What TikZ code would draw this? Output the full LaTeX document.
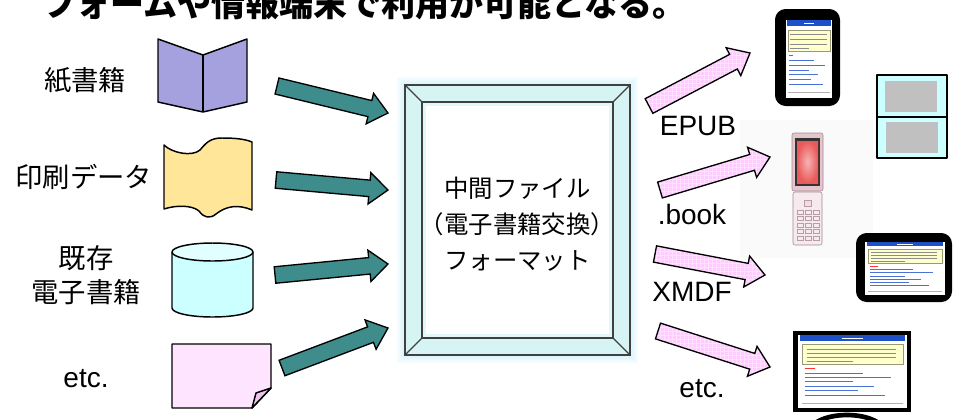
\documentclass[tikz,border=0pt]{standalone}
\usepackage{fontspec}
\setmainfont{Liberation Sans}
\newfontfamily\jpfont{Noto Sans CJK JP}
\usetikzlibrary{calc,patterns}
\definecolor{arrowTeal}{RGB}{62,140,140}
\definecolor{arrowPink}{RGB}{255,204,255}
\definecolor{bookLilac}{RGB}{165,160,222}
\definecolor{paperYellow}{RGB}{255,230,153}
\definecolor{drumCyan}{RGB}{204,255,255}
\definecolor{drumTop}{RGB}{226,255,255}
\definecolor{notePink}{RGB}{255,228,255}
\definecolor{noteFold}{RGB}{240,196,240}
\definecolor{frameCyan}{RGB}{214,244,244}
\definecolor{screenBlue}{RGB}{30,80,200}
\definecolor{screenCream}{RGB}{255,255,204}
\definecolor{phoneRose}{RGB}{230,196,206}
\definecolor{phoneRed}{RGB}{235,90,90}
\definecolor{dsGrey}{RGB}{192,192,192}
% block arrow: style, tail, tip
\newcommand{\shaftw}{6.2pt}
\newcommand{\headw}{11.8pt}
\newcommand{\headl}{14pt}
\newcommand{\blockarrow}[3]{%
  \coordinate (#2-b) at ($(#3)!\headl!(#2)$);
  \draw[#1] ($(#2)!\shaftw!90:(#3)$) -- ($(#2-b)!\shaftw!90:(#3)$)
    -- ($(#2-b)!\headw!90:(#3)$) -- (#3) -- ($(#2-b)!\headw!-90:(#3)$)
    -- ($(#2-b)!\shaftw!-90:(#3)$) -- ($(#2)!\shaftw!-90:(#3)$) -- cycle;}
% little reader screen in a unit box: left, top, width, height (px)
\newcommand{\uiscreen}[4]{%
  \begin{scope}[shift={(#1,#2)},x=#3*0.75pt,y=-#4*0.75pt]
    \fill[white] (0,0) rectangle (1,1);
    \fill[screenBlue] (0.02,0) rectangle (0.98,0.08);
    \draw[white,line width=.4pt] (0.4,0.04) -- (0.6,0.04);
    \draw[fill=screenCream,draw=screenCream!60!black,line width=.2pt] (0.04,0.13) rectangle (0.96,0.4);
    \foreach \ty in {0.19,0.25,0.31}
      \draw[black!45,line width=.5pt] (0.08,\ty) -- (0.9,\ty);
    \draw[black!45,line width=.5pt] (0.08,0.36) -- (0.5,0.36);
    \draw[red!80,line width=.6pt] (0.06,0.46) -- (0.16,0.46);
    \foreach \ty/\tl in {0.52/0.6,0.58/0.85,0.64/0.5,0.7/0.7,0.76/0.55,0.82/0.8}
      \draw[screenBlue!80,line width=.5pt] (0.06,\ty) -- (\tl,\ty);
    \draw[black!30,line width=.4pt] (0.04,0.93) -- (0.96,0.93);
  \end{scope}}
\tikzset{
  icon/.style={draw=black,line width=1.1pt,line join=round},
  tealarrow/.style={draw=black,line width=1pt,fill=arrowTeal},
  pinkarrow/.style={draw=black,line width=1pt,preaction={fill=arrowPink},pattern=grid,pattern color=magenta!12},
  jplabel/.style={font=\jpfont\fontsize{20.5}{26}\selectfont,inner sep=0pt,align=center},
  enlabel/.style={font=\fontsize{21}{24}\selectfont,inner sep=0pt},
  frameline/.style={draw=black!75,line width=.9pt},
  device/.style={fill=black,rounded corners=8pt}
}
\begin{document}
\begin{tikzpicture}[x=0.75pt,y=-0.75pt]
\useasboundingbox (0,0) rectangle (953,419);
\clip (0,0) rectangle (953,419);

% heading line running off the top
\node[anchor=base west,inner sep=0pt,font=\jpfont\bfseries\fontsize{25.5}{30}\selectfont] (lead) at (42,16) {フォームや情報端末で利用が可能となる。};

% sources
\node[jplabel] (paperbook) at (85,80) {紙書籍};
\node[jplabel] (printdata) at (84,177) {印刷データ};
\node[jplabel] (ebook) at (86,275) {既存\\電子書籍};
\node[enlabel,anchor=base] (othersrc) at (86,387) {etc.};

\draw[icon,fill=bookLilac] (158,39) -- (203,55) -- (247,39) -- (247,102) -- (203,112) -- (158,102) -- cycle;
\draw[icon] (203,55) -- (203,112);

\draw[icon,fill=paperYellow] (164,145) .. controls (172,153) and (192,157) .. (200,150)
  .. controls (206,143) and (210,138) .. (222,138) .. controls (235,138) and (245,139) .. (252,142)
  -- (252,210) .. controls (238,204) and (226,206) .. (216,214)
  .. controls (210,219) and (204,218) .. (199,211) .. controls (192,205) and (176,205) .. (164,209) -- cycle;

\draw[icon,fill=drumCyan] (172,252) -- (172,308) arc[start angle=180,end angle=0,x radius=40.5,y radius=9] -- (253,252);
\draw[icon,fill=drumTop] (212.5,252) ellipse[x radius=40.5,y radius=9];

\draw[icon,preaction={fill=notePink},pattern=grid,pattern color=magenta!10] (172,344) -- (271,344) -- (271,388) -- (252,408) -- (172,408) -- cycle;
\draw[icon,fill=noteFold] (252,408) -- (256,393) -- (271,388) -- cycle;

% into the exchange format
\coordinate (s1) at (277,86);  \coordinate (e1) at (388,113);
\coordinate (s2) at (276,180); \coordinate (e2) at (388,190);
\coordinate (s3) at (275,275); \coordinate (e3) at (388,264);
\coordinate (s4) at (282,368); \coordinate (e4) at (388,328);
\foreach \i in {1,...,4}
  {\blockarrow{tealarrow}{s\i}{e\i}}

% bevelled frame with soft glow
\foreach \g in {2,4,...,12}
  \draw[cyan!40,opacity=.07,line width=\g pt] (405,85) rectangle (630,355);
\fill[frameCyan] (405,85) rectangle (630,355);
\fill[white] (422,102) rectangle (613,338);
\draw[frameCyan!70,line width=3pt] (424,104) rectangle (611,336);
\draw[frameline] (405,85) rectangle (630,355);
\draw[frameline] (422,102) rectangle (613,338);
\draw[frameline] (405,85) -- (422,102) (630,85) -- (613,102) (405,355) -- (422,338) (630,355) -- (613,338);
\node[jplabel,font=\jpfont\fontsize{18.3}{27}\selectfont] (fmt) at (517.5,224) {中間ファイル\\（電子書籍交換）\\フォーマット};

% backdrop of the flip phone photo
\fill[black!2] (740,120) rectangle (873,258);

% out to the readers
\coordinate (p1) at (649,106); \coordinate (q1) at (750,53);
\coordinate (p2) at (660,190); \coordinate (q2) at (770,157);
\coordinate (p3) at (655,254); \coordinate (q3) at (765,275);
\coordinate (p4) at (658,331); \coordinate (q4) at (770,367);
\foreach \i in {1,...,4}
  {\blockarrow{pinkarrow}{p\i}{q\i}}
\node[enlabel,anchor=base] (epub) at (698,135) {EPUB};
\node[enlabel,anchor=base] (dotbook) at (692,224) {.book};
\node[enlabel,anchor=base] (xmdf) at (692,301) {XMDF};
\node[enlabel,anchor=base] (otherfmt) at (702,397) {etc.};

% smartphone
\fill[device] (775,9) rectangle (840,106);
\uiscreen{786}{20}{46}{78}

% two-screen handheld
\draw[icon,line width=1.2pt,fill=drumCyan] (877,75) rectangle (947,117);
\draw[icon,line width=1.2pt,fill=drumCyan] (877,117) rectangle (947,158);
\fill[dsGrey] (885,81) rectangle (937,112);
\fill[dsGrey] (886,122) rectangle (938,153);

% flip phone
\draw[fill=phoneRose,draw=phoneRose!70!black,line width=.4pt,rounded corners=1.5pt] (792,133) rectangle (823,191);
\fill[black!80] (795,138) rectangle (820,186);
\shade[inner color=phoneRed!45,outer color=phoneRed] (797,141) rectangle (818,183);
\draw[fill=phoneRose!35,draw=phoneRose!70!black,line width=.4pt,rounded corners=1.5pt] (793,192) rectangle (822,245);
\draw[phoneRose!80!black,line width=.3pt,fill=phoneRose!60] (804,200) rectangle (811,206);
\foreach \r in {0,...,4}
  \foreach \c in {0,1,2}
    \draw[phoneRose!80!black,line width=.3pt] ({797.5+\c*8},{210+\r*6.5}) rectangle +(6,4);

% landscape reader
\fill[device] (856,233) rectangle (952,302);
\uiscreen{865}{242}{80}{53}

% desktop monitor
\draw[black,line width=3.5pt,fill=white] (847,433) ellipse[x radius=38,y radius=18];
\fill[black] (793,331) rectangle (911,412);
\uiscreen{798}{335}{109}{73}
\end{tikzpicture}
\end{document}
